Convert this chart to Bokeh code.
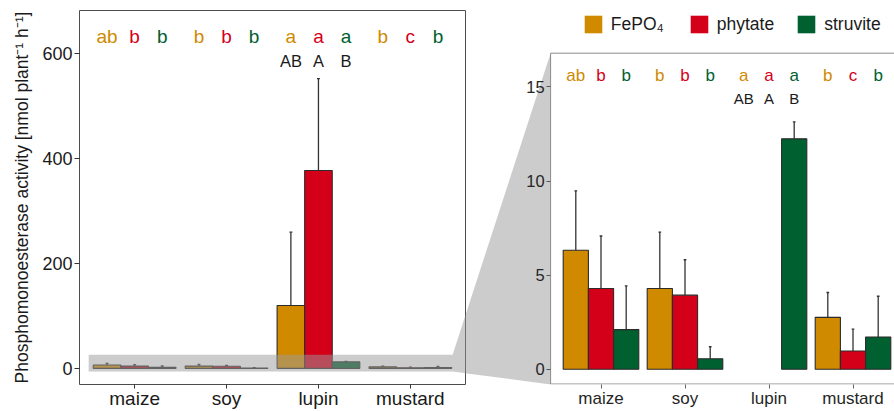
from bokeh.plotting import figure
from bokeh.layouts import row
from bokeh.models import Range1d, FixedTicker, ColumnDataSource, Legend, LegendItem
from bokeh.core.properties import value
from bokeh.embed import file_html
from bokeh.resources import INLINE

# ---------------- data ----------------
crops = ["maize", "soy", "lupin", "mustard"]
forms = ["FePO\u2084", "phytate", "struvite"]
fepo4_mean = [6.32, 4.29, 119.7, 2.76]
phytate_mean = [4.29, 3.94, 377.0, 0.97]
struvite_mean = [2.11, 0.56, 12.24, 1.72]
fepo4_upper = [9.48, 7.29, 259.5, 4.08]
phytate_upper = [7.08, 5.82, 552.0, 2.13]
struvite_upper = [4.43, 1.20, 13.14, 3.88]
letters_fepo4 = ["ab", "b", "a", "b"]
letters_phytate = ["b", "b", "a", "c"]
letters_struvite = ["b", "b", "a", "b"]
lupin_letters = ["AB", "A", "B"]
left_ticks = [0, 200, 400, 600]
right_ticks = [0, 5, 10, 15]
colors = ["#D08A00", "#D4001A", "#00602F"]

means = [fepo4_mean, phytate_mean, struvite_mean]
uppers = [fepo4_upper, phytate_upper, struvite_upper]
letter_sets = [letters_fepo4, letters_phytate, letters_struvite]
offsets = [-0.3, 0.0, 0.3]
BAR_W = 0.3
FONT = "Liberation Sans"

# ---------------- geometry (page px, the page has no body margin) ----------------
H = 411
TOP, BOT = 10, 24
FRAME_TOP, FRAME_BOT = TOP, H - BOT          # 10 .. 387
FH = FRAME_BOT - FRAME_TOP

# left figure
WL, LB_L, RB_L = 466, 79, 1
L_FX0 = LB_L
L_FW = WL - LB_L - RB_L
xL0, xL1 = 0.4, 4.6
yL0 = -30.8
yL1 = yL0 + FH / 0.529

# right figure (overlaps left one through a negative margin)
OVER = 41
LB_R = 40
WR = 894 - (WL - OVER)
R_FX0 = WL - OVER + LB_R
R_FW = WR - LB_R
zoom_x0 = 0.4               # left edge of the zoom panel (data)
zoom_y0, zoom_y1 = -0.806, 16.79
px_per_x = 84.0
px_per_y = 18.98
xR0 = zoom_x0 - 85.1 / px_per_x
xR1 = xR0 + R_FW / px_per_x
yR0 = zoom_y0
yR1 = yR0 + FH / px_per_y


def L_to_px(x, y):
    return (L_FX0 + (x - xL0) * L_FW / (xL1 - xL0),
            FRAME_BOT - (y - yL0) * FH / (yL1 - yL0))


def px_to_L(px, py):
    return (xL0 + (px - L_FX0) * (xL1 - xL0) / L_FW,
            yL0 + (FRAME_BOT - py) * (yL1 - yL0) / FH)


def R_to_px(x, y):
    return (R_FX0 + (x - xR0) * R_FW / (xR1 - xR0),
            FRAME_BOT - (y - yR0) * FH / (yR1 - yR0))


def px_to_R(px, py):
    return (xR0 + (px - R_FX0) * (xR1 - xR0) / R_FW,
            yR0 + (FRAME_BOT - py) * (yR1 - yR0) / FH)


# zoom band (left data) joined to the zoom panel corners (right data)
band_x0, band_x1, band_y0, band_y1 = 0.5, 4.46, -6.0, 26.0
poly_px = [L_to_px(band_x0, band_y1), L_to_px(band_x1, band_y1),
           R_to_px(zoom_x0, zoom_y1), R_to_px(zoom_x0, zoom_y0),
           L_to_px(band_x1, band_y0), L_to_px(band_x0, band_y0)]


def style_common(p):
    p.grid.visible = False
    for ax in (p.xaxis[0], p.yaxis[0]):
        ax.minor_tick_line_color = None
        ax.major_tick_in = 0
        ax.major_label_text_font = FONT
    p.xaxis.ticker = FixedTicker(ticks=[1, 2, 3, 4])
    p.xaxis.major_label_overrides = {i + 1: c for i, c in enumerate(crops)}


def draw_bars(p, limit=None):
    for j in range(3):
        xs, tops, ups = [], [], []
        for i in range(len(crops)):
            if limit is not None and means[j][i] > limit:
                continue
            xs.append(i + 1 + offsets[j])
            tops.append(means[j][i])
            ups.append(uppers[j][i])
        src = ColumnDataSource(dict(x=xs, top=tops, up=ups,
                                    c0=[x - 0.016 for x in xs], c1=[x + 0.016 for x in xs]))
        p.segment(x0="x", y0="top", x1="x", y1="up", source=src, line_color="#333333", line_width=1.3)
        p.segment(x0="c0", y0="up", x1="c1", y1="up", source=src, line_color="#333333", line_width=1.3)
        p.vbar(x="x", top="top", bottom=0, width=BAR_W, source=src,
               fill_color=colors[j], line_color="#2b2b2b", line_width=1.1)


def draw_letters(p, y_top, y_sub, size_lo, size_up):
    lx, lt, lc = [], [], []
    for j in range(3):
        for i, t in enumerate(letter_sets[j]):
            lx.append(i + 1 + offsets[j]); lt.append(t); lc.append(colors[j])
    p.text(x=lx, y=[y_top] * len(lx), text=lt, text_color=lc, text_font=value(FONT),
           text_font_size=value(size_lo), text_align="center", text_baseline="alphabetic")
    li = crops.index("lupin")
    ux = [li + 1 + o for o in offsets]
    p.text(x=ux, y=[y_sub] * 3, text=lupin_letters, text_color="#1a1a1a", text_font=value(FONT),
           text_font_size=value(size_up), text_align="center", text_baseline="alphabetic")


# ---------------- left plot ----------------
pL = figure(width=WL, height=H, x_range=Range1d(xL0, xL1), y_range=Range1d(yL0, yL1),
            output_backend="svg", toolbar_location=None,
            min_border_left=LB_L, min_border_right=RB_L, min_border_top=TOP, min_border_bottom=BOT)
style_common(pL)
pL.outline_line_color = "#4d4d4d"
pL.outline_line_width = 1
draw_bars(pL)
lp = [px_to_L(*q) for q in poly_px]
pL.patch(x=[q[0] for q in lp], y=[q[1] for q in lp], fill_color="#9a9a9a", fill_alpha=0.5, line_color=None)
draw_letters(pL, 631.4, 586.0, "19px", "16.5px")

pL.yaxis.ticker = FixedTicker(ticks=left_ticks)
pL.yaxis.axis_line_color = None
pL.yaxis.major_tick_out = 5
pL.yaxis.major_tick_line_color = "#333333"
pL.yaxis.major_label_standoff = 2
pL.yaxis.major_label_text_font_size = "18px"
pL.yaxis.major_label_text_color = "#1a1a1a"
pL.yaxis.axis_label = "Phosphomonoesterase activity [nmol plant\u207b\u00b9 h\u207b\u00b9]"
pL.yaxis.axis_label_text_font = FONT
pL.yaxis.axis_label_text_font_style = "normal"
pL.yaxis.axis_label_text_font_size = "17.5px"
pL.yaxis.axis_label_text_color = "#1a1a1a"
pL.yaxis.axis_label_standoff = 7
pL.xaxis.axis_line_color = None
pL.xaxis.major_tick_out = 4
pL.xaxis.major_tick_line_color = "#333333"
pL.xaxis.major_label_standoff = -1
pL.xaxis.major_label_text_font_size = "19px"
pL.xaxis.major_label_text_color = "#1a1a1a"

# ---------------- right (zoom) plot ----------------
pR = figure(width=WR, height=H, x_range=Range1d(xR0, xR1), y_range=Range1d(yR0, yR1),
            output_backend="svg", toolbar_location=None,
            min_border_left=LB_R, min_border_right=0, min_border_top=TOP, min_border_bottom=BOT)
pR.margin = (0, 0, 0, -OVER)
style_common(pR)
pR.outline_line_color = None
pR.background_fill_alpha = 0
pR.border_fill_alpha = 0
rp = [px_to_R(*q) for q in poly_px]
pR.patch(x=[q[0] for q in rp], y=[q[1] for q in rp], fill_color="#9a9a9a", fill_alpha=0.5, line_color=None)
draw_bars(pR, limit=zoom_y1)
draw_letters(pR, 15.58, 14.38, "17px", "15px")

# zoom panel border (left, top, bottom)
yb = zoom_y0 + 0.5 / px_per_y
pR.segment(x0=[zoom_x0, zoom_x0, zoom_x0], y0=[yb, zoom_y1, yb],
           x1=[zoom_x0, xR1, xR1], y1=[zoom_y1, zoom_y1, yb],
           line_color="#8c8c8c", line_width=1)

pR.yaxis.fixed_location = zoom_x0
pR.yaxis.ticker = FixedTicker(ticks=right_ticks)
pR.yaxis.axis_line_color = None
pR.yaxis.major_tick_out = 4
pR.yaxis.major_tick_line_color = "#555555"
pR.yaxis.major_label_standoff = 2
pR.yaxis.major_label_text_font_size = "16.5px"
pR.yaxis.major_label_text_color = "#262626"
pR.xaxis.axis_line_color = None
pR.xaxis.major_tick_out = 4
pR.xaxis.major_tick_line_color = "#666666"
pR.xaxis.major_label_standoff = 0
pR.xaxis.major_label_text_font_size = "17px"
pR.xaxis.major_label_text_color = "#262626"

nan = float("nan")
items = []
for name, c in zip(forms, colors):
    r = pR.quad(left=[nan], right=[nan], top=[nan], bottom=[nan], fill_color=c, line_color=None)
    items.append(LegendItem(label=name, renderers=[r]))
legend = Legend(items=items, orientation="horizontal", location=(116.8, 348.8),
                glyph_width=22, glyph_height=22, label_height=22, label_width=56,
                label_standoff=7, spacing=21, padding=0, margin=0,
                border_line_color=None, background_fill_alpha=0,
                label_text_font=FONT, label_text_font_size="17.5px", label_text_color="#1a1a1a")
pR.add_layout(legend)

layout = row(pL, pR)
open("out.html", "w").write(file_html(layout, INLINE))
